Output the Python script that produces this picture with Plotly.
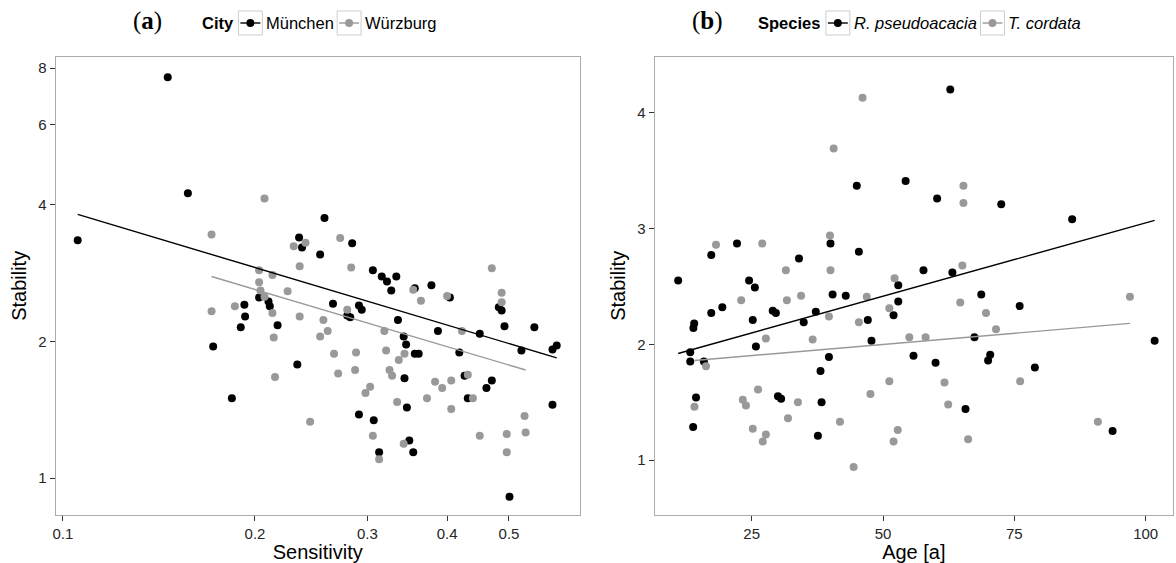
import plotly.graph_objects as go

# ---------------- Panel (a): Sensitivity vs Stability (log-log) ----------------
muc_sens = [0.1055, 0.146, 0.157, 0.172, 0.184, 0.190, 0.1925, 0.193, 0.203, 0.210,
            0.211, 0.2345, 0.217, 0.233, 0.253, 0.257, 0.237, 0.265, 0.279, 0.282,
            0.291, 0.294, 0.291, 0.307, 0.313, 0.284, 0.306, 0.316, 0.322, 0.327,
            0.333, 0.335, 0.342, 0.345, 0.343, 0.346, 0.356, 0.361, 0.349, 0.354,
            0.356, 0.378, 0.387, 0.404, 0.418, 0.426, 0.431, 0.450, 0.461, 0.470,
            0.482, 0.487, 0.492, 0.501, 0.523, 0.548, 0.585, 0.585, 0.594]
muc_stab = [3.34, 7.64, 4.24, 1.95, 1.50, 2.15, 2.41, 2.27, 2.50, 2.45,
            2.39, 3.39, 2.17, 1.78, 3.11, 3.74, 3.22, 2.42, 2.28, 2.26,
            2.40, 2.35, 1.38, 1.34, 1.14, 3.29, 2.87, 2.78, 2.71, 2.59,
            2.78, 2.23, 2.05, 1.97, 1.66, 1.43, 1.88, 1.88, 1.21, 1.14,
            2.62, 2.66, 2.11, 2.50, 1.89, 1.68, 1.50, 2.08, 1.58, 1.64,
            2.38, 2.34, 2.16, 0.91, 1.91, 2.15, 1.92, 1.45, 1.96]

wue_sens = [0.171, 0.171, 0.186, 0.207, 0.203, 0.203, 0.204, 0.207, 0.213, 0.213,
            0.214, 0.215, 0.225, 0.230, 0.235, 0.235, 0.240, 0.244, 0.253, 0.256,
            0.260, 0.266, 0.270, 0.272, 0.279, 0.283, 0.287, 0.288, 0.298, 0.303,
            0.306, 0.313, 0.319, 0.321, 0.325, 0.328, 0.334, 0.336, 0.342, 0.343,
            0.354, 0.364, 0.372, 0.383, 0.393, 0.400, 0.406, 0.406, 0.422, 0.431,
            0.439, 0.450, 0.470, 0.487, 0.487, 0.496, 0.496, 0.529, 0.531]
wue_stab = [3.44, 2.33, 2.39, 4.13, 2.87, 2.70, 2.59, 2.51, 2.80, 2.31,
            2.04, 1.67, 2.58, 3.24, 2.93, 2.27, 3.30, 1.33, 2.05, 2.23,
            2.11, 1.88, 1.70, 3.38, 2.35, 2.91, 1.73, 1.89, 1.54, 1.59,
            1.24, 1.10, 2.11, 1.91, 1.73, 1.68, 1.47, 1.82, 1.19, 1.88,
            2.60, 2.46, 1.50, 1.63, 1.58, 2.52, 1.42, 1.64, 2.11, 1.69,
            1.50, 1.24, 2.90, 2.56, 2.44, 1.25, 1.14, 1.37, 1.26]

# fitted lines (start/end)
muc_fit_x = [0.1055, 0.594]
muc_fit_y = [3.81, 1.84]
wue_fit_x = [0.171, 0.531]
wue_fit_y = [2.78, 1.73]

# ---------------- Panel (b): Age vs Stability ----------------
rob_age = [11.0, 14.05, 13.9, 13.3, 13.3, 15.9, 14.4, 13.85, 17.3, 17.3,
           19.4, 22.2, 24.5, 25.6, 25.2, 25.8, 29.0, 29.6, 30.0, 30.6,
           34.0, 34.9, 37.2, 37.6, 38.1, 38.3, 39.7, 40.0, 40.4, 42.9,
           45.0, 45.4, 47.1, 47.8, 52.0, 52.9, 52.9, 54.3, 55.8, 57.7,
           60.0, 60.3, 62.8, 63.2, 65.7, 67.4, 68.7, 70.0, 70.4, 72.5,
           76.0, 78.9, 86.0, 93.7, 101.7]
rob_stab = [2.55, 2.18, 2.14, 1.93, 1.85, 1.85, 1.54, 1.285, 2.77, 2.27,
            2.32, 2.87, 2.55, 2.49, 2.21, 1.98, 2.29, 2.27, 1.55, 1.53,
            2.74, 2.19, 2.28, 1.21, 1.77, 1.50, 1.89, 2.87, 2.43, 2.42,
            3.37, 2.80, 2.21, 2.03, 2.25, 2.51, 2.37, 3.41, 1.90, 2.64,
            1.84, 3.26, 4.20, 2.62, 1.44, 2.06, 2.43, 1.86, 1.91, 3.21,
            2.33, 1.80, 3.08, 1.25, 2.03]

til_age = [14.1, 16.3, 18.2, 23.0, 23.3, 23.9, 25.2, 26.2, 27.0, 27.7,
           27.1, 27.7, 31.5, 31.7, 31.9, 33.8, 34.4, 36.6, 39.7, 39.9,
           40.6, 40.0, 41.8, 44.4, 45.4, 46.1, 46.9, 47.6, 51.2, 51.2,
           52.0, 52.2, 52.8, 55.0, 58.1, 61.7, 62.4, 64.7, 65.1, 65.3,
           65.3, 66.2, 69.6, 71.5, 76.1, 90.9, 97.0]
til_stab = [1.46, 1.81, 2.86, 2.38, 1.52, 1.47, 1.27, 1.61, 2.87, 2.05,
            1.16, 1.22, 2.64, 2.38, 1.36, 1.50, 2.42, 2.04, 2.24, 2.94,
            3.69, 2.64, 1.33, 0.94, 2.19, 4.13, 2.41, 1.57, 1.68, 2.31,
            1.16, 2.57, 1.26, 2.06, 2.06, 1.67, 1.48, 2.36, 2.68, 3.37,
            3.22, 1.18, 2.27, 2.13, 1.68, 1.33, 2.41]

rob_fit_x = [11.0, 101.7]
rob_fit_y = [1.92, 3.07]
til_fit_x = [14.1, 97.0]
til_fit_y = [1.86, 2.18]

xa_ticks = [0.1, 0.2, 0.3, 0.4, 0.5]
ya_ticks = [1, 2, 4, 6, 8]
xb_ticks = [25, 50, 75, 100]
yb_ticks = [1, 2, 3, 4]

BLACK = "#000000"
GREY = "#999999"
W, H = 1176, 563
FONT = "Liberation Sans, Arial, sans-serif"

fig = go.Figure()


def pts(x, y, color, xa, ya):
    fig.add_trace(go.Scatter(x=x, y=y, mode="markers", xaxis=xa, yaxis=ya,
                             marker=dict(size=8, color=color, line=dict(width=0)),
                             showlegend=False, hoverinfo="x+y"))


def fit(x, y, color, xa, ya):
    fig.add_trace(go.Scatter(x=x, y=y, mode="lines", xaxis=xa, yaxis=ya,
                             line=dict(color=color, width=1.4),
                             showlegend=False, hoverinfo="skip"))


pts(muc_sens, muc_stab, BLACK, "x", "y")
pts(wue_sens, wue_stab, GREY, "x", "y")
fit(muc_fit_x, muc_fit_y, BLACK, "x", "y")
fit(wue_fit_x, wue_fit_y, GREY, "x", "y")

pts(rob_age, rob_stab, BLACK, "x2", "y2")
pts(til_age, til_stab, GREY, "x2", "y2")
fit(rob_fit_x, rob_fit_y, BLACK, "x2", "y2")
fit(til_fit_x, til_fit_y, GREY, "x2", "y2")

axis_common = dict(showgrid=False, zeroline=False, showline=True, mirror=True,
                   linecolor="#ababab", linewidth=1, ticks="outside", ticklen=5,
                   tickwidth=1, tickcolor="#333333",
                   tickfont=dict(family=FONT, size=15, color="#262626"))
title_font = dict(family=FONT, size=20, color="#000000")

top_px, bot_px = 56.7, 515.0
ydom = [1 - bot_px / H, 1 - top_px / H]

fig.update_layout(
    width=W, height=H, margin=dict(l=0, r=0, t=0, b=0),
    paper_bgcolor="white", plot_bgcolor="white", showlegend=False,
    xaxis=dict(type="log", range=[-1.0114, -0.190], domain=[52.7 / W, 578.3 / W],
               tickvals=xa_ticks, ticktext=[str(v) for v in xa_ticks],
               title=dict(text="Sensitivity", font=title_font, standoff=2),
               anchor="y", **axis_common),
    yaxis=dict(type="log", range=[-0.0814, 0.9284], domain=ydom,
               tickvals=ya_ticks, ticktext=[str(v) for v in ya_ticks],
               title=dict(text="Stability", font=title_font, standoff=6),
               anchor="x", **axis_common),
    xaxis2=dict(range=[6.52, 105.2], domain=[653.3 / W, 1173 / W],
                tickvals=xb_ticks, ticktext=[str(v) for v in xb_ticks],
                title=dict(text="Age [a]", font=title_font, standoff=2),
                anchor="y2", **axis_common),
    yaxis2=dict(range=[0.525, 4.484], domain=ydom,
                tickvals=yb_ticks, ticktext=[str(v) for v in yb_ticks],
                title=dict(text="Stability", font=title_font, standoff=6),
                anchor="x2", **axis_common),
)

# ---------------- headers: panel tags and legends ----------------
LEG_Y = 23  # px from top
def fx(px):
    return px / W
def fy(py):
    return 1 - py / H

ann = []
shapes = []

def text(px, s, anchor="left", size=16.5, family=FONT, py=LEG_Y):
    ann.append(dict(x=fx(px), y=fy(py), xref="paper", yref="paper", text=s,
                    showarrow=False, xanchor=anchor, yanchor="middle",
                    font=dict(family=family, size=size, color="#000000")))

def key(x0, color):
    x1 = x0 + 24
    shapes.append(dict(type="rect", xref="paper", yref="paper",
                       x0=fx(x0), x1=fx(x1), y0=fy(LEG_Y + 12), y1=fy(LEG_Y - 12),
                       line=dict(color="#cccccc", width=1), fillcolor="white"))
    shapes.append(dict(type="line", xref="paper", yref="paper",
                       x0=fx(x0 + 2), x1=fx(x1 - 2), y0=fy(LEG_Y), y1=fy(LEG_Y),
                       line=dict(color=color, width=1.4)))
    cx = (x0 + x1) / 2
    shapes.append(dict(type="circle", xref="paper", yref="paper",
                       x0=fx(cx - 4), x1=fx(cx + 4), y0=fy(LEG_Y + 4), y1=fy(LEG_Y - 4),
                       line=dict(color=color, width=0), fillcolor=color))

legend_a = ["City", "München", "Würzburg"]
legend_b = ["Species", "R. pseudoacacia", "T. cordata"]

text(145, "(<b>a</b>)", anchor="center", size=25, family="Liberation Serif, Times New Roman, serif", py=21)
text(198, "<b>%s</b>" % legend_a[0])
key(236, BLACK)
text(262, legend_a[1])
key(335, GREY)
text(361, legend_a[2])

text(706, "(<b>b</b>)", anchor="center", size=25, family="Liberation Serif, Times New Roman, serif", py=21)
text(755, "<b>%s</b>" % legend_b[0])
key(825, BLACK)
text(851, "<i>%s</i>" % legend_b[1])
key(980, GREY)
text(1006, "<i>%s</i>" % legend_b[2])

fig.update_layout(annotations=ann, shapes=shapes)

fig.write_html("out.html")
